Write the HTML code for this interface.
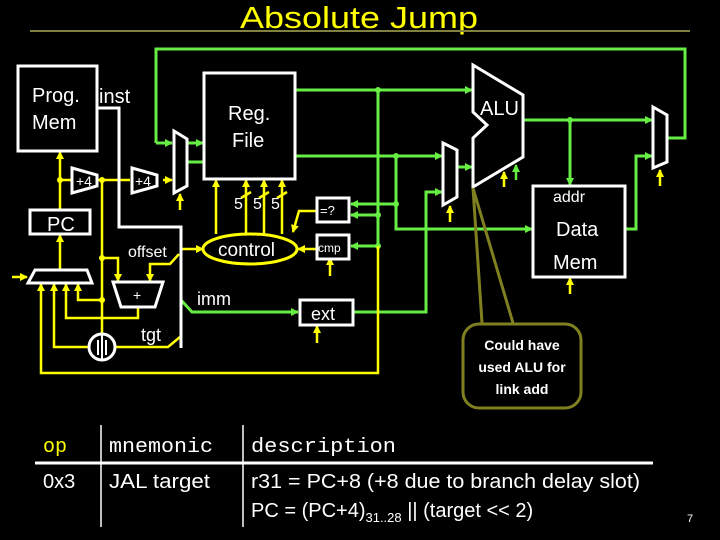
<!DOCTYPE html>
<html><head><meta charset="utf-8"><style>
html,body{margin:0;padding:0;background:#000;}
svg{display:block;font-family:"Liberation Sans",sans-serif;}
</style></head><body>
<svg width="720" height="540" viewBox="0 0 720 540" xmlns="http://www.w3.org/2000/svg">
<defs>
<marker id="ay" markerWidth="8" markerHeight="8" refX="7" refY="4" orient="auto" markerUnits="userSpaceOnUse"><path d="M0,0 L8,4 L0,8 z" fill="#ffff00"/></marker>
<marker id="ag" markerWidth="8" markerHeight="8" refX="7" refY="4" orient="auto" markerUnits="userSpaceOnUse"><path d="M0,0 L8,4 L0,8 z" fill="#66ee44"/></marker>
</defs>
<rect width="720" height="540" fill="#000"/>
<text x="359" y="28" fill="#ffff00" font-size="31" text-anchor="middle" textLength="238" lengthAdjust="spacingAndGlyphs">Absolute Jump</text>
<line x1="30" y1="31" x2="690" y2="31" stroke="#808040" stroke-width="2"/>

<!-- green wires -->
<g stroke="#66ee44" stroke-width="3" fill="none">
<polyline points="156,143 156,49 685,49 685,138 667,138"/>
<line x1="156" y1="143" x2="172" y2="143" marker-end="url(#ag)"/>
<line x1="187" y1="143" x2="203" y2="143" marker-end="url(#ag)"/>
<line x1="187" y1="162" x2="204" y2="162"/>
<line x1="295" y1="90" x2="472" y2="90" marker-end="url(#ag)"/>
<line x1="295" y1="156" x2="442" y2="156" marker-end="url(#ag)"/>
<line x1="378" y1="90" x2="378" y2="246"/>
<line x1="378" y1="246" x2="351" y2="246" marker-end="url(#ag)"/>
<line x1="378" y1="215" x2="351" y2="215" marker-end="url(#ag)"/>
<line x1="396" y1="204" x2="351" y2="204" marker-end="url(#ag)"/>
<polyline points="396,156 396,229 532,229" marker-end="url(#ag)"/>
<line x1="457" y1="167" x2="472" y2="167" marker-end="url(#ag)"/>
<polyline points="353,312 426,312 426,192 442,192" marker-end="url(#ag)"/>
<line x1="523" y1="120" x2="652" y2="120" marker-end="url(#ag)"/>
<line x1="570" y1="120" x2="570" y2="185" marker-end="url(#ag)"/>
<polyline points="625,229 636,229 636,156 652,156" marker-end="url(#ag)"/>
<polyline points="181,300 192,312 298,312" marker-end="url(#ag)"/>
</g>
<g fill="#66ee44"><circle cx="378" cy="90" r="3"/><circle cx="396" cy="156" r="3"/><circle cx="396" cy="204" r="3"/><circle cx="378" cy="215" r="3"/><circle cx="378" cy="246" r="3"/><circle cx="570" cy="120" r="3"/></g>

<!-- yellow wires -->
<g stroke="#ffff00" stroke-width="2.5" fill="none">
<line x1="60" y1="209" x2="60" y2="152" marker-end="url(#ay)"/>
<line x1="60" y1="180" x2="72" y2="180"/>
<line x1="97" y1="180" x2="130" y2="180" />
<line x1="163" y1="180" x2="172" y2="180" marker-end="url(#ay)"/>
<line x1="60" y1="270" x2="60" y2="235" marker-end="url(#ay)"/>
<line x1="102" y1="180" x2="102" y2="334"/>
<polyline points="102,258 118,258 118,281" marker-end="url(#ay)"/>
<polyline points="179,254 170,264 150,264 150,281" marker-end="url(#ay)"/>
<polyline points="102,300 78,300 78,284" marker-end="url(#ay)"/>
<polyline points="138,308 138,318 66,318 66,284" marker-end="url(#ay)"/>
<polyline points="89,347 54,347 54,284" marker-end="url(#ay)"/>
<polyline points="115,347 168,347 180,337"/>
<polyline points="378,246 378,373 41,373 41,284" marker-end="url(#ay)"/>
<line x1="12" y1="277" x2="27" y2="277" marker-end="url(#ay)"/>
<line x1="180" y1="210" x2="180" y2="194" marker-end="url(#ay)"/>
<line x1="216" y1="234" x2="216" y2="180" marker-end="url(#ay)"/>
<line x1="246" y1="234" x2="246" y2="180" marker-end="url(#ay)"/>
<line x1="264" y1="234" x2="264" y2="180" marker-end="url(#ay)"/>
<line x1="282" y1="234" x2="282" y2="180" marker-end="url(#ay)"/>
<line x1="241" y1="198" x2="251" y2="192"/><line x1="259" y1="198" x2="269" y2="192"/><line x1="277" y1="198" x2="287" y2="192"/>
<line x1="181" y1="249" x2="203" y2="249" marker-end="url(#ay)"/>
<polyline points="317,211 299,211 293,232" marker-end="url(#ay)"/>
<line x1="317" y1="249" x2="298" y2="249" marker-end="url(#ay)"/>
<line x1="330" y1="276" x2="330" y2="258" marker-end="url(#ay)"/>
<line x1="317" y1="343" x2="317" y2="326" marker-end="url(#ay)"/>
<line x1="450" y1="222" x2="450" y2="206" marker-end="url(#ay)"/>
<line x1="504" y1="187" x2="504" y2="172" marker-end="url(#ay)"/>
<line x1="570" y1="294" x2="570" y2="278" marker-end="url(#ay)"/>
<line x1="660" y1="186" x2="660" y2="170" marker-end="url(#ay)"/>
</g>
<line x1="516" y1="180" x2="516" y2="165" stroke="#66ee44" stroke-width="2.5" marker-end="url(#ag)"/>
<g fill="#ffff00"><circle cx="60" cy="180" r="3"/><circle cx="102" cy="180" r="3"/><circle cx="102" cy="258" r="3"/><circle cx="102" cy="300" r="3"/></g>

<!-- white structures -->
<g stroke="#fff" stroke-width="3" fill="#000">
<rect x="18" y="66" width="79" height="85"/>
<rect x="30" y="210" width="60" height="24"/>
<rect x="204" y="73" width="91" height="106"/>
<polygon points="72,168 97,175 97,186 72,193"/>
<polygon points="132,168 157,175 157,186 132,193"/>
<polygon points="174,131 187,139 187,186 174,193"/>
<polygon points="35,270 87,270 92,283 28,283"/>
<polygon points="113,282 163,282 155,307 121,307"/>
<circle cx="102" cy="347" r="13"/>
<rect x="317" y="198" width="32" height="24"/>
<rect x="317" y="235" width="32" height="24"/>
<rect x="300" y="300" width="53" height="25"/>
<rect x="533" y="186" width="92" height="91"/>
<polygon points="473,65 523,95 523,157 473,187 473,138 487,125 473,112"/>
<polygon points="443,143 457,150 457,197 443,205"/>
<polygon points="653,107 667,115 667,162 653,168"/>
<polyline points="97,108 119,108 119,227 181,227 181,348" fill="none"/>
</g>
<line x1="102" y1="334" x2="102" y2="360" stroke="#fff" stroke-width="2"/><line x1="98" y1="340" x2="98" y2="355" stroke="#fff" stroke-width="2"/><line x1="106" y1="340" x2="106" y2="355" stroke="#fff" stroke-width="2"/>
<ellipse cx="250" cy="249" rx="47" ry="15" fill="#000" stroke="#ffff00" stroke-width="3"/>

<!-- callout -->
<g stroke="#808020" stroke-width="3" fill="none">
<path d="M473,188 L482,323 M473,188 L513,323"/>
<rect x="463" y="324" width="118" height="84" rx="16" fill="#000"/>
</g>

<g fill="#fff" font-size="20">
<text x="32" y="102">Prog.</text>
<text x="32" y="129">Mem</text>
<text x="99" y="103">inst</text>
<text x="47" y="231">PC</text>
<text x="228" y="120">Reg.</text>
<text x="232" y="147">File</text>
<text x="480" y="115">ALU</text>
<text x="218" y="256" font-size="19">control</text>
<text x="234" y="209" font-size="16">5</text><text x="253" y="209" font-size="16">5</text><text x="271" y="209" font-size="16">5</text>
<text x="128" y="257" font-size="16">offset</text>
<text x="197" y="305" font-size="18">imm</text>
<text x="141" y="341" font-size="18">tgt</text>
<text x="311" y="320" font-size="18">ext</text>
<text x="320" y="215" font-size="13">=?</text>
<text x="318" y="252" font-size="12">cmp</text>
<text x="76" y="186" font-size="14">+4</text>
<text x="135" y="186" font-size="14">+4</text>
<text x="133" y="300" font-size="14">+</text>
<text x="553" y="202" font-size="16">addr</text>
<text x="556" y="236">Data</text>
<text x="553" y="269">Mem</text>
<text x="522" y="350" font-size="14" font-weight="bold" text-anchor="middle">Could have</text>
<text x="522" y="372" font-size="14" font-weight="bold" text-anchor="middle">used ALU for</text>
<text x="522" y="394" font-size="14" font-weight="bold" text-anchor="middle">link add</text>
</g>

<!-- table -->
<g font-size="20">
<text x="43" y="452" fill="#ffff00" font-family="Liberation Mono,monospace">op</text>
<text x="109" y="452" fill="#fff" font-family="Liberation Mono,monospace" textLength="104" lengthAdjust="spacingAndGlyphs">mnemonic</text>
<text x="251" y="452" fill="#fff" font-family="Liberation Mono,monospace" textLength="145" lengthAdjust="spacingAndGlyphs">description</text>
<text x="43" y="488" fill="#fff">0x3</text>
<text x="109" y="488" fill="#fff" textLength="101" lengthAdjust="spacingAndGlyphs">JAL  target</text>
<text x="251" y="488" fill="#fff" textLength="389" lengthAdjust="spacingAndGlyphs">r31 = PC+8 (+8 due to branch delay slot)</text>
<text x="251" y="517" fill="#fff">PC = (PC+4)<tspan font-size="13" dy="5">31..28</tspan><tspan dy="-5"> || (target &lt;&lt; 2)</tspan></text>
<text x="687" y="522" fill="#fff" font-size="11">7</text>
</g>
<line x1="35" y1="463" x2="653" y2="463" stroke="#fff" stroke-width="3"/>
<line x1="101" y1="425" x2="101" y2="527" stroke="#fff" stroke-width="1.5"/>
<line x1="243" y1="425" x2="243" y2="527" stroke="#fff" stroke-width="1.5"/>
</svg>
</body></html>
